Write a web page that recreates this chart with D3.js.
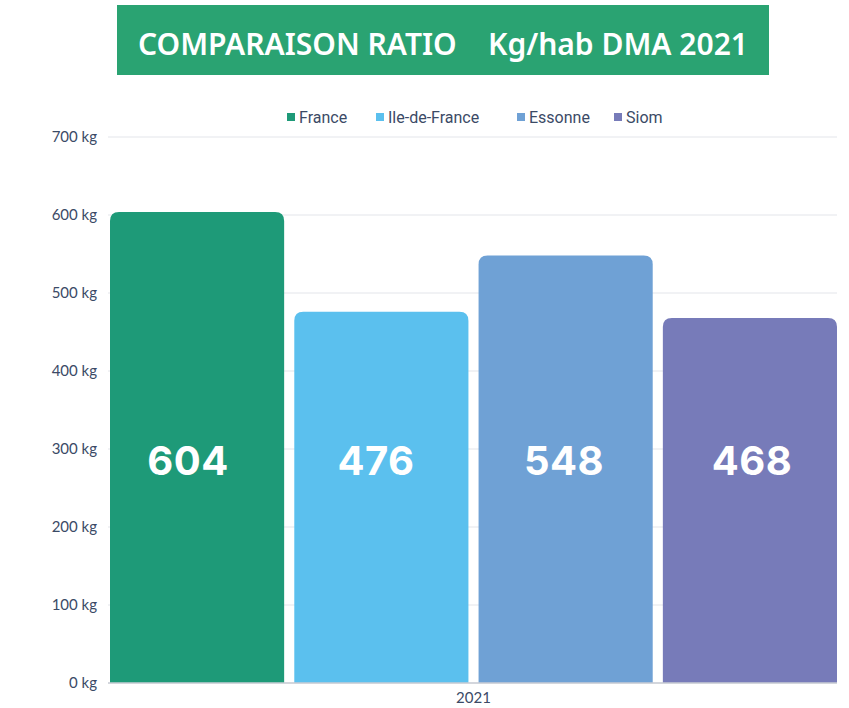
<!DOCTYPE html>
<html>
<head>
<meta charset="utf-8">
<script src="https://cdn.jsdelivr.net/npm/d3@7"></script>
<style>
  body { margin: 0; background: #fff; }
  svg { display: block; }
</style>
</head>
<body>
<svg id="chart" width="849" height="708"></svg>
<script>
var titleText = "COMPARAISON RATIO    Kg/hab DMA 2021";
var years = ["2021"];
var series = ["France", "Ile-de-France", "Essonne", "Siom"];
var values = [604, 476, 548, 468];
var colors = ["#1e9a78", "#5bc0ee", "#6fa1d5", "#777bb9"];
var yTicks = [0, 100, 200, 300, 400, 500, 600, 700];

var svg = d3.select("#chart");
var margin = { left: 108, right: 12, top: 137, bottom: 25 };
var W = 849, H = 708;

// title banner
svg.append("rect")
    .attr("x", 117).attr("y", 5)
    .attr("width", 652).attr("height", 70)
    .attr("fill", "#2aa372");
svg.append("text")
    .attr("x", 443).attr("y", 55)
    .attr("text-anchor", "middle")
    .attr("fill", "#fff")
    .attr("font-family", "Noto Sans, sans-serif")
    .attr("font-weight", 600)
    .attr("font-size", 31)
    .attr("textLength", 610)
    .attr("lengthAdjust", "spacingAndGlyphs")
    .attr("xml:space", "preserve")
    .style("white-space", "pre")
    .text(titleText);

var y = d3.scaleLinear().domain([0, 700]).range([H - margin.bottom, margin.top]);
var x0 = d3.scaleBand().domain(years).range([margin.left, W - margin.right]).padding(0);
var x1 = d3.scaleBand().domain(series).range([2, x0.bandwidth()]).paddingInner(0.055).paddingOuter(0);
// value labels sit on an evenly spread band, a little wider than the bars
var xLabel = d3.scaleBand().domain(series).range([94, 846]);

// grid
svg.append("g").selectAll("line").data(yTicks).join("line")
    .attr("x1", margin.left).attr("x2", W - margin.right)
    .attr("y1", function (d) { return y(d); }).attr("y2", function (d) { return y(d); })
    .attr("stroke", "#e3e5ea").attr("stroke-width", 1);

// y axis labels
var yAxis = d3.axisLeft(y).tickValues(yTicks).tickSize(0).tickPadding(11)
    .tickFormat(function (d) { return d + " kg"; });
svg.append("g").attr("transform", "translate(" + margin.left + ",0)")
    .call(yAxis)
    .call(function (g) { g.select(".domain").remove(); })
    .selectAll("text")
    .attr("fill", "#3b4a66")
    .attr("font-family", "Lato, sans-serif")
    .attr("font-size", 15);

// bars with rounded tops
function barPath(x, yTop, w, yBot, r) {
    return "M" + x + "," + yBot +
        "V" + (yTop + r) +
        "Q" + x + "," + yTop + " " + (x + r) + "," + yTop +
        "H" + (x + w - r) +
        "Q" + (x + w) + "," + yTop + " " + (x + w) + "," + (yTop + r) +
        "V" + yBot + "Z";
}

var groups = svg.append("g").selectAll("g").data(years).join("g")
    .attr("transform", function (d) { return "translate(" + x0(d) + ",0)"; });

groups.selectAll("path").data(function () {
    return series.map(function (s, i) { return { key: s, value: values[i], color: colors[i] }; });
}).join("path")
    .attr("d", function (d) {
        return barPath(x1(d.key), y(d.value), x1.bandwidth(), y(0), 9);
    })
    .attr("fill", function (d) { return d.color; });

svg.append("g").selectAll("text.val").data(series.map(function (s, i) {
    return { key: s, value: values[i] };
})).join("text")
    .attr("class", "val")
    .attr("x", function (d) { return xLabel(d.key) + xLabel.bandwidth() / 2; })
    .attr("y", y(285))
    .attr("dy", "0.36em")
    .attr("text-anchor", "middle")
    .attr("fill", "#fff")
    .attr("font-family", "Inter, sans-serif")
    .attr("font-weight", 700)
    .attr("font-size", 40)
    .attr("letter-spacing", 0.5)
    .text(function (d) { return d.value; });

// baseline
svg.append("line")
    .attr("x1", margin.left).attr("x2", W - margin.right)
    .attr("y1", y(0)).attr("y2", y(0))
    .attr("stroke", "#c8ccd4").attr("stroke-width", 1.5);

// x label
svg.append("text")
    .attr("x", (margin.left + W - margin.right) / 2 + 1).attr("y", y(0) + 20)
    .attr("text-anchor", "middle")
    .attr("fill", "#3b4a66")
    .attr("font-family", "Lato, sans-serif")
    .attr("font-size", 15)
    .text(years[0]);

// legend
var legendX = [287, 376, 517, 614];
var legend = svg.append("g").selectAll("g").data(series).join("g")
    .attr("transform", function (d, i) { return "translate(" + legendX[i] + ",117)"; });
legend.append("rect")
    .attr("x", 0).attr("y", -4).attr("width", 8).attr("height", 8)
    .attr("fill", function (d, i) { return colors[i]; });
legend.append("text")
    .attr("x", 12).attr("y", 0).attr("dy", "0.35em")
    .attr("fill", "#3b4a66")
    .attr("font-family", "Roboto, sans-serif")
    .attr("font-size", 16)
    .text(function (d) { return d; });
</script>
</body>
</html>
